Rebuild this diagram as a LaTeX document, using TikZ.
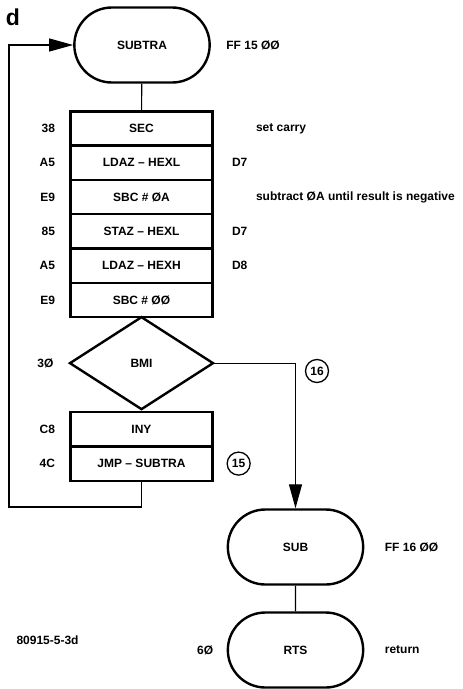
\documentclass[tikz,border=0pt]{standalone}
\usepackage{fontspec}
\setmainfont{Liberation Sans}
\usetikzlibrary{arrows.meta,positioning,shapes.misc,shapes.geometric}
\newcommand\tfont{\bfseries\fontsize{12}{14}\selectfont}
\tikzset{term/.style={rounded rectangle,draw,line width=2.4pt,minimum width=142pt,minimum height=75pt,font=\tfont},cell/.style={rectangle,draw,line width=2.4pt,outer sep=0pt,minimum width=142pt,minimum height=34.3pt,font=\tfont},test/.style={diamond,draw,line width=2.4pt,outer sep=0pt,minimum width=143pt,minimum height=92pt,inner sep=0pt,font=\tfont},code/.style={font=\tfont,anchor=east},note/.style={font=\tfont,anchor=west},tag/.style={circle,draw,line width=1.3pt,minimum size=23pt,inner sep=0pt,font=\tfont},flow/.style={-{Triangle[length=24pt,width=13pt]},line width=1.1pt},link/.style={line width=1.1pt}}

\begin{document}
\begin{tikzpicture}[x=1pt,y=-1pt]
\useasboundingbox (0,0) rectangle (463,689);
\node[font=\bfseries\fontsize{23}{25}\selectfont] (fig) at (13,17) {d};
\node[term] (subtra) at (142,45) {SUBTRA};
\node[cell] (sec) at (141.5,128.5) {SEC};
\node[cell,below=0pt of sec] (ldl) {LDAZ – HEXL};
\node[cell,below=0pt of ldl] (sbca) {SBC \# ØA};
\node[cell,below=0pt of sbca] (stl) {STAZ – HEXL};
\node[cell,below=0pt of stl] (ldh) {LDAZ – HEXH};
\node[cell,below=0pt of ldh] (sbcz) {SBC \# ØØ};
\node[test,below=0pt of sbcz] (bmi) {BMI};
\node[cell,below=3pt of bmi] (iny) {INY};
\node[cell,below=0pt of iny] (jmp) {JMP – SUBTRA};
\node[term] (sub) at (295.5,547) {SUB};
\node[term] (rts) at (295.5,650) {RTS};
% opcodes and notes
\node[note,right=12pt of subtra.east] (a1) {FF 15 ØØ};
\node[code,left=12pt of sec.west] (c1) {38};
\node[code,left=12pt of ldl.west] (c2) {A5};
\node[code,left=12pt of sbca.west] (c3) {E9};
\node[code,left=12pt of stl.west] (c4) {85};
\node[code,left=12pt of ldh.west] (c5) {A5};
\node[code,left=12pt of sbcz.west] (c6) {E9};
\node[code,left=13pt of bmi.west] (c7) {3Ø};
\node[code,left=12pt of iny.west] (c8) {C8};
\node[code,left=12pt of jmp.west] (c9) {4C};
\node[code,left=10pt of rts.west] (c10) {6Ø};
\node[note,right=40pt of sec.east] (n1) {set carry};
\node[note,right=16pt of ldl.east] (n2) {D7};
\node[note,right=40pt of sbca.east] (n3) {subtract ØA until result is negative};
\node[note,right=16pt of stl.east] (n4) {D7};
\node[note,right=16pt of ldh.east] (n5) {D8};
\node[note,right=17pt of sub.east] (a2) {FF 16 ØØ};
\node[note,right=17pt of rts.east] (n6) {return};
\node[note] (ref) at (13,640) {80915-5-3d};
\node[tag] (t16) at (317,371) {16};
\node[tag,right=14pt of jmp.east] (t15) {15};
% connectors
\coordinate (loop) at (9,507);
\draw[link] (subtra)--(sec);
\draw[flow] (bmi.east) -| (sub.north);
\draw[flow] (jmp.south) |- (loop) |- (subtra.west);
\draw[link] (sub)--(rts);
\end{tikzpicture}
\end{document}
